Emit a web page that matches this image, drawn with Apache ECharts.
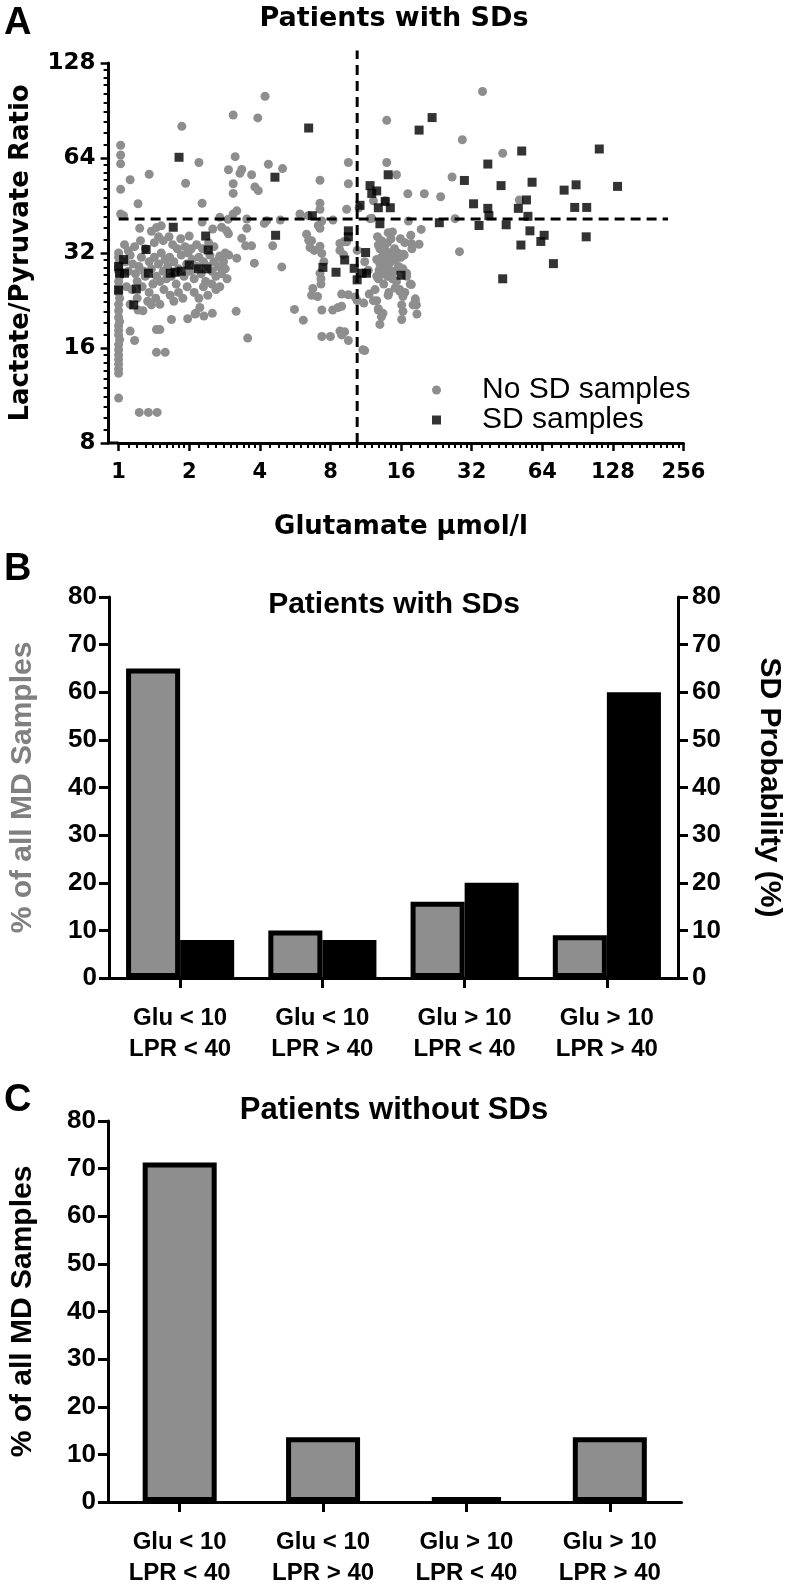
<!DOCTYPE html>
<html><head><meta charset="utf-8">
<script src="https://cdn.jsdelivr.net/npm/echarts@6/dist/echarts.min.js"></script>
<style>html,body{margin:0;padding:0;background:#fff}#c{width:792px;height:1590px}</style>
</head><body><div id="c"></div>
<script>
// ---------------- DATA ----------------
// Panel A: [glutamate µmol/l, lactate/pyruvate ratio]
const noSdSamples = [
  [1.02,70.2],[1.02,65.4],[1.02,61.3],[1.12,54.6],[1.02,50.9],[1.21,45.8],[1.02,42.5],[1.05,42.0],[1.35,56.8],[1.86,80.6],
  [1.93,53.2],[2.2,61.9],[2.27,46.0],[3.08,87.5],[2.94,58.7],[3.14,64.6],[3.08,53.0],[3.29,57.2],[3.69,56.6],[3.81,51.8],
  [3.94,50.4],[3.92,85.7],[4.21,100.4],[4.35,61.1],[5.0,59.2],[3.08,49.4],[3.08,42.5],[2.7,41.5],[3.19,43.5],[3.52,41.0],
  [4.28,40.5],[4.89,40.7],[2.27,40.1],[7.22,54.4],[7.22,46.0],[7.22,44.0],[5.93,42.5],[6.43,42.0],[7.35,40.4],[8.2,40.7],
  [9.54,61.9],[9.54,53.0],[9.38,44.0],[13.9,84.2],[13.9,61.9],[15.3,56.6],[13.7,46.8],[35.6,103.9],[29.2,73.1],[43.4,66.2],
  [26.4,55.7],[17.1,49.3],[20.1,49.3],[23.6,48.2],[51.1,47.1],[27.2,41.1],[17.2,40.4],[2.93,40.9],[12.0,41.2],[10.6,44.5],
  [12.2,46.8],[11.8,41.1],[3.35,58.8],
  [2.75,38.6],[2.89,37.6],[3.52,38.3],[14.1,37.1],[6.33,36.7],[6.65,35.0],[7.22,33.6],[9.1,34.7],[14.7,37.3],[17.6,36.4],
  [19.5,38.0],[19.1,34.1],[7.1,39.1],[7.22,38.3],[4.18,39.7],[1.23,38.3],[2.0,36.2],[2.52,38.1],[2.94,36.8],[3.35,35.6],
  [4.54,33.7],[3.48,33.7],[3.69,33.7],[6.46,35.1],[6.55,33.3],[6.82,32.6],[7.35,31.9],[8.78,34.3],[8.78,32.6],[9.1,31.6],
  [9.38,34.7],[10.4,32.6],[12.8,33.9],[28.4,32.3],[2.85,32.0],[17.7,34.3],
  [3.79,29.7],[4.96,28.9],[7.5,30.0],[7.22,27.6],[7.29,25.5],[6.73,24.7],[7.05,23.3],[5.62,21.2],[6.13,19.6],[7.35,21.1],
  [8.18,21.1],[8.63,21.5],[8.93,21.7],[8.93,23.7],[9.54,23.6],[8.0,17.4],[8.78,18.1],[8.93,17.6],[9.2,18.0],[9.54,16.9],
  [10.2,23.2],[10.4,22.6],[11.1,22.2],[11.7,23.7],[11.2,15.7],[11.2,30.0],[11.6,28.2],[12.6,22.6],[12.8,21.3],[2.7,31.3],
  [3.19,30.8],[3.17,20.9],[3.55,17.2],[7.35,17.4],[11.0,15.8],[6.65,23.5],[7.29,26.5],
  [12.7,36.0],[13.2,35.0],[13.5,34.0],[14.0,34.5],[14.5,35.5],[13.0,33.0],[13.8,32.5],[14.3,32.0],[15.0,33.0],[15.5,32.0],
  [13.2,31.0],[13.8,30.5],[14.5,30.0],[15.2,30.5],[16.0,31.0],[16.5,31.5],[13.0,29.5],[13.6,29.0],[14.2,28.5],[14.9,28.0],
  [15.6,29.0],[16.3,28.5],[13.3,27.5],[14.0,27.0],[14.7,26.5],[15.3,26.0],[12.8,26.5],[13.5,25.5],[16.9,27.0],[17.5,25.5],
  [15.8,24.5],[16.6,24.0],[14.2,24.0],[12.9,28.2],[12.6,30.5],[15.9,35.5],[16.6,34.5],[17.8,33.0],[18.4,22.9],[18.6,21.9],
  [18.7,20.5],[16.1,21.9],[16.3,20.9],[16.1,19.7],[12.2,22.6],[12.8,21.1],[13.4,20.6],[13.0,19.0],[16.3,23.3],[13.2,20.1],
  [13.9,31.7],[14.8,31.3],[16.4,31.7],[13.5,28.6],[14.4,28.0],[16.9,27.6],[17.7,25.4],[15.1,24.8],[15.8,24.2],[14.1,23.5],
  [18.0,21.9],[18.4,22.6],[12.4,24.5],[12.6,27.0],
  [1.0,32.0],[1.0,31.0],[1.01,30.0],[1.0,29.0],[1.0,28.0],[1.01,27.0],[1.0,26.0],[1.0,25.0],[1.0,24.0],[1.01,23.0],
  [1.0,22.0],[1.0,21.0],[1.0,20.0],[1.01,19.4],[1.0,18.8],[1.0,18.2],[1.0,17.6],[1.01,17.0],[1.0,16.4],[1.0,15.8],
  [1.0,15.2],[1.0,14.7],[1.0,14.2],[1.0,13.7],[1.0,13.3],[1.0,11.1],
  [1.07,30.0],[1.1,28.0],[1.08,25.0],[1.12,22.0],[1.1,32.5],[1.06,34.0],
  [1.12,31.5],[1.15,29.5],[1.18,27.5],[1.2,26.0],[1.22,29.0],[1.25,31.0],[1.28,28.0],[1.14,24.5],[1.2,23.0],[1.26,25.0],
  [1.3,27.0],[1.3,33.0],[1.24,35.0],[1.17,33.5],[1.35,24.0],[1.33,22.5],[1.27,21.0],
  [1.35,30.0],[1.38,28.5],[1.42,31.0],[1.45,27.0],[1.48,29.5],[1.5,26.0],[1.52,32.0],[1.55,28.0],[1.58,30.5],[1.4,25.5],
  [1.44,23.0],[1.5,22.0],[1.56,24.5],[1.6,26.5],[1.42,34.5],[1.48,36.0],[1.55,35.0],[1.38,37.5],[1.45,38.5],[1.52,39.0],
  [1.62,29.0],[1.65,31.0],[1.68,27.0],[1.72,30.0],[1.76,25.5],[1.8,28.5],[1.85,31.5],[1.9,27.0],[1.95,29.5],[1.66,23.5],
  [1.72,22.5],[1.8,24.0],[1.88,23.0],[1.96,25.0],[1.7,34.0],[1.78,33.0],[1.64,36.0],[1.92,33.5],[1.84,35.5],[1.98,32.0],
  [2.02,28.0],[2.06,30.5],[2.1,26.5],[2.15,29.0],[2.2,31.0],[2.25,27.5],[2.3,30.0],[2.35,26.0],[2.4,29.0],[2.45,31.5],
  [2.5,28.0],[2.55,30.0],[2.1,24.0],[2.2,23.0],[2.3,25.0],[2.4,23.5],[2.5,25.5],[2.04,33.0],[2.15,34.0],[2.28,33.0],
  [2.42,34.5],[2.55,33.5],[2.6,27.0],[2.6,24.5],[2.22,21.5],[2.12,20.5],
  [2.65,29.0],[2.7,31.0],[2.75,27.5],[2.8,30.0],[2.85,28.5],[2.7,25.0],[2.9,26.5],[2.95,31.5],
  [1.12,18.1],[1.17,16.9],[1.45,18.3],[1.5,18.3],[1.45,15.5],[1.58,15.5],[1.68,19.7],[1.97,19.8],[2.13,20.6],[2.31,20.2],
  [2.51,20.6],[1.38,21.9],[1.21,21.1],[1.225,10.0],[1.34,10.0],[1.46,10.0]
];
const sdSamples = [
  [1.81,64.3],[4.64,55.6],[6.46,79.6],[6.7,42.0],[9.54,37.6],[9.54,36.0],[10.7,45.3],[11.8,52.3],[12.0,49.4],[12.6,50.3],
  [12.8,44.5],[14.4,44.5],[14.1,56.6],[13.0,39.6],[13.7,46.6],[1.71,38.6],[2.35,36.2],[4.67,36.4],[19.1,78.4],[21.7,85.9],
  [52.3,67.3],[112,68.3],[37.5,61.2],[29.8,54.3],[42.7,52.3],[57.9,53.6],[79.3,50.6],[89.2,52.6],[134,52.0],[32.6,45.8],
  [37.5,44.3],[37.9,42.0],[54.8,47.1],[50.6,44.3],[88,44.6],[99,44.6],[55.6,41.8],[23.3,39.9],[34.4,39.1],[44.9,39.3],
  [56.7,37.6],[65.2,36.4],[63.1,34.8],[98.5,36.0],[51.9,33.9],[71.4,29.6],[43.4,26.5],[16.0,27.2],[11.3,32.1],[9.2,30.4],
  [7.43,28.8],[8.45,27.8],[10.1,28.6],[10.4,26.3],[10.9,27.6],[11.4,27.6],
  [1.0,29.0],[1.05,30.5],[1.01,27.6],[1.06,27.6],[1.0,24.4],[1.19,24.6],[1.16,21.9],[1.34,27.6],[1.66,27.6],[1.74,27.8],
  [1.85,28.0],[2.0,29.3],[2.19,28.5],[2.38,28.5],[2.41,32.7],[1.31,32.8]
];
// dashed guide lines
const gluGuide = 10.4;   // µmol/l (vertical dashed line)
const lprGuide = 41;     // (horizontal dashed line)
const gluTickValues = [1, 2, 4, 8, 16, 32, 64, 128, 256];
const lprTickValues = [8, 16, 32, 64, 128];

// Panels B and C
const categories = ['Glu < 10\nLPR < 40', 'Glu < 10\nLPR > 40', 'Glu > 10\nLPR < 40', 'Glu > 10\nLPR > 40'];
const pctSamplesWithSD = [65, 10, 16, 9];          // % of all MD samples (patients with SDs)
const sdProbability = [8, 8, 20, 60];              // SD probability (%)
const pctSamplesWithoutSD = [71.3, 13.6, 1, 13.6]; // % of all MD samples (patients without SDs)

// ---------------- STYLE ----------------
const ARIAL = '"Liberation Sans", Arial, Helvetica, sans-serif';
const DEJAVU = '"DejaVu Sans", "Liberation Sans", sans-serif';
const GREY = '#8e8e8e';
const BLACK = '#000';
const axisLine = {show: true, lineStyle: {color: BLACK, width: 3}};

const gA = {left: 118.6, top: 62.9, width: 564.9, height: 380.1};
const gB = {left: 107.5, top: 597, width: 574, height: 381};
const gC = {left: 107.5, top: 1121, width: 574, height: 381};

function catAxis(gi, margin) {
  return {
    type: 'category', gridIndex: gi, data: categories,
    axisLine: axisLine,
    axisTick: {show: true, alignWithLabel: true, length: 10, lineStyle: {color: BLACK, width: 3}},
    axisLabel: {color: BLACK, fontFamily: ARIAL, fontWeight: 'bold', fontSize: 24, lineHeight: 31, margin: margin}
  };
}
function pctAxis(gi, pos, name, nameColor, nameGap, rot) {
  return {
    type: 'value', gridIndex: gi, position: pos, min: 0, max: 80, interval: 10,
    axisLine: axisLine,
    axisTick: {show: true, length: 10, lineStyle: {color: BLACK, width: 3}},
    axisLabel: {color: BLACK, fontFamily: ARIAL, fontWeight: 'bold', fontSize: 26, margin: pos === 'right' ? 14 : 12},
    splitLine: {show: false},
    name: name, nameLocation: 'middle', nameGap: nameGap, nameRotate: rot,
    nameTextStyle: {color: nameColor, fontFamily: ARIAL, fontWeight: 'bold', fontSize: 30}
  };
}
function titleText(text, left, top, size, font, align) {
  return {text: text, left: left, top: top, padding: 0, textAlign: align,
          textStyle: {fontSize: size, fontWeight: 'bold', color: BLACK, fontFamily: font}};
}

const option = {
  backgroundColor: '#fff',
  animation: false,
  textStyle: {fontFamily: ARIAL},
  title: [
    titleText('A', 4, 5, 38, ARIAL, 'left'),
    titleText('Patients with SDs', 394, 5, 27, DEJAVU, 'center'),
    titleText('B', 4, 551, 38, ARIAL, 'left'),
    titleText('Patients with SDs', 394, 590, 30, ARIAL, 'center'),
    titleText('C', 4, 1082, 38, ARIAL, 'left'),
    titleText('Patients without SDs', 394, 1095, 31, ARIAL, 'center')
  ],
  legend: {
    data: [{name: 'No SD samples', icon: 'circle'}, {name: 'SD samples', icon: 'path://M0,0H10V10H0Z'}],
    orient: 'vertical', left: 432, top: 375, padding: 0, itemGap: 0,
    itemWidth: 9, itemHeight: 9, selectedMode: false,
    textStyle: {fontSize: 30, color: BLACK, fontFamily: ARIAL, padding: [0, 0, 0, 36]}
  },
  grid: [
    Object.assign({containLabel: false}, gA),
    Object.assign({containLabel: false}, gB),
    Object.assign({containLabel: false}, gC)
  ],
  xAxis: [
    {
      type: 'log', logBase: 2, gridIndex: 0, min: 1, max: 256,
      axisLine: axisLine,
      axisTick: {show: true, length: 8, lineStyle: {color: BLACK, width: 2.5}},
      minorTick: {show: true, splitNumber: 10, length: 5, lineStyle: {color: BLACK, width: 2}},
      splitLine: {show: false}, minorSplitLine: {show: false},
      axisLabel: {color: BLACK, fontFamily: DEJAVU, fontWeight: 'bold', fontSize: 21, margin: 19,
        formatter: v => (gluTickValues.indexOf(Math.round(v)) >= 0 ? String(Math.round(v)) : '')},
      name: 'Glutamate \u03bcmol/l', nameLocation: 'middle', nameGap: 71,
      nameTextStyle: {color: BLACK, fontFamily: DEJAVU, fontWeight: 'bold', fontSize: 26}
    },
    catAxis(1, 25),
    catAxis(2, 25)
  ],
  yAxis: [
    {
      type: 'log', logBase: 2, gridIndex: 0, min: 8, max: 128, offset: 10,
      axisLine: axisLine,
      axisTick: {show: true, length: 8, lineStyle: {color: BLACK, width: 2.5}},
      minorTick: {show: true, splitNumber: 10, length: 5, lineStyle: {color: BLACK, width: 2}},
      splitLine: {show: false}, minorSplitLine: {show: false},
      axisLabel: {color: BLACK, fontFamily: DEJAVU, fontWeight: 'bold', fontSize: 23, margin: 13,
        formatter: v => (lprTickValues.indexOf(Math.round(v)) >= 0 ? String(Math.round(v)) : '')},
      name: 'Lactate/Pyruvate Ratio', nameLocation: 'middle', nameGap: 74, nameRotate: 90,
      nameTextStyle: {color: BLACK, fontFamily: DEJAVU, fontWeight: 'bold', fontSize: 26}
    },
    pctAxis(1, 'left', '% of all MD Samples', '#808080', 71, 90),
    pctAxis(1, 'right', 'SD Probability (%)', BLACK, 76, -90),
    pctAxis(2, 'left', '% of all MD Samples', BLACK, 70, 90)
  ],
  graphic: [
    {type: 'line', silent: true, shape: {x1: gA.left - 11.5, y1: gA.top + gA.height, x2: gA.left, y2: gA.top + gA.height},
     style: {stroke: BLACK, lineWidth: 3}}
  ],
  series: [
    {
      name: 'No SD samples', type: 'scatter', xAxisIndex: 0, yAxisIndex: 0,
      data: noSdSamples, symbol: 'circle', symbolSize: 9,
      itemStyle: {color: GREY, opacity: 1}, z: 2, silent: true
    },
    {
      type: 'line', xAxisIndex: 0, yAxisIndex: 0, data: [[gluGuide, 8], [gluGuide, 140]],
      symbol: 'none', clip: false, silent: true, z: 3,
      lineStyle: {color: BLACK, width: 3, type: [10, 6]}
    },
    {
      type: 'line', xAxisIndex: 0, yAxisIndex: 0, data: [[1, lprGuide], [220, lprGuide]],
      symbol: 'none', clip: false, silent: true, z: 3,
      lineStyle: {color: BLACK, width: 3, type: [10, 6]}
    },
    {
      name: 'SD samples', type: 'scatter', xAxisIndex: 0, yAxisIndex: 0,
      data: sdSamples, symbol: 'rect', symbolSize: 9,
      itemStyle: {color: BLACK}, z: 4, silent: true
    },
    {
      type: 'bar', xAxisIndex: 1, yAxisIndex: 1, data: pctSamplesWithSD,
      barGap: '0%', barCategoryGap: '24%',
      itemStyle: {color: GREY, borderColor: BLACK, borderWidth: 5}, silent: true
    },
    {
      type: 'bar', xAxisIndex: 1, yAxisIndex: 2, data: sdProbability,
      barGap: '0%', barCategoryGap: '24%',
      itemStyle: {color: BLACK, borderColor: BLACK, borderWidth: 5}, silent: true
    },
    {
      type: 'bar', xAxisIndex: 2, yAxisIndex: 3, data: pctSamplesWithoutSD,
      barWidth: 74,
      itemStyle: {color: GREY, borderColor: BLACK, borderWidth: 5}, silent: true
    }
  ]
};

const chart = echarts.init(document.getElementById('c'), null, {renderer: 'canvas', width: 792, height: 1590});
chart.setOption(option);
</script></body></html>
